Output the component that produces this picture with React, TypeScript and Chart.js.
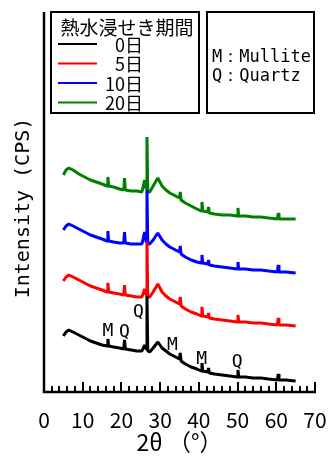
import React, { useEffect, useRef } from "react";
import { Chart, registerables } from "chart.js";

Chart.register(...registerables);

// 2θ positions (deg) shared by all four patterns
const twoTheta = [
  5, 5.7, 6.4, 7.5, 9, 10.5, 12, 13.5, 15, 16.3,
  16.5, 16.7, 18, 19.5, 20.6, 20.8, 21.0, 22.5, 24, 25.3,
  26.0, 26.4, 26.6, 26.8, 27.3, 28.2, 29.4, 30.5, 31.5, 32.5,
  33.5, 35.0, 35.2, 35.4, 36.5, 38, 39.5, 40.6, 40.8, 41.0,
  42.3, 42.5, 42.7, 44, 46, 48, 49.9, 50.1, 50.3, 52,
  54, 56, 58, 60.3, 60.5, 60.7, 62.5, 65,
];

const intensity0 = [
  56, 60, 62, 60, 57, 54, 51, 49, 47, 46,
  53, 46, 45, 44, 43, 52, 43, 42, 41, 41,
  47, 43, 96, 41, 40, 44, 50, 44, 41, 38,
  36, 33, 39, 31, 28, 25, 23, 21, 29, 21,
  20, 24, 19, 18, 17, 16, 15, 22, 15, 15,
  14, 14, 13, 12, 18, 12, 12, 11,
];

const intensity5 = [
  111, 115, 117, 115, 112, 109, 106, 104, 102, 100,
  109, 100, 99, 98, 97, 107, 97, 96, 95, 95,
  103, 97, 150, 95, 95, 100, 108, 100, 96, 93,
  91, 88, 95, 86, 83, 80, 78, 76, 85, 76,
  75, 79, 74, 73, 72, 71, 70, 77, 70, 70,
  69, 69, 68, 67, 74, 67, 67, 66,
];

const intensity10 = [
  162, 166, 168, 166, 163, 160, 157, 155, 153, 151,
  161, 151, 150, 149, 149, 160, 149, 148, 148, 148,
  160, 150, 202, 148, 148, 152, 159, 152, 148, 145,
  143, 140, 146, 138, 135, 132, 130, 129, 137, 129,
  128, 132, 127, 126, 125, 124, 123, 130, 123, 123,
  122, 122, 121, 120, 127, 120, 120, 119,
];

const intensity20 = [
  217, 222, 224, 222, 218, 215, 212, 210, 208, 206,
  215, 206, 205, 203, 202, 214, 202, 201, 201, 200,
  212, 203, 255, 200, 200, 206, 214, 206, 202, 199,
  197, 194, 200, 192, 189, 186, 183, 181, 190, 181,
  180, 185, 179, 178, 177, 177, 176, 184, 176, 176,
  175, 175, 174, 173, 179, 173, 173, 173,
];

const seriesLabels = ["0日", "5日", "10日", "20日"];
const seriesColors = ["#000000", "#ff0000", "#0000ff", "#008000"];
const seriesValues = [intensity0, intensity5, intensity10, intensity20];

const legendTitle = "熱水浸せき期間";
const phaseNotes = ["M：Mullite", "Q：Quartz"];

// peak identification labels on the 0日 pattern
const peakLabels = ["M", "Q", "Q", "M", "M", "Q"];
const peakLabelX = [16.5, 20.8, 24.4, 33.2, 40.7, 49.9];
const peakLabelY = [61, 60, 80, 47, 33, 30];

const xMin = 0;
const xMax = 70;
const xLabelStep = 10;
const xMinorStep = 2;

const decorPlugin = {
  id: "decor",
  afterDatasetsDraw(chart: any) {
    const { ctx, chartArea, scales } = chart;
    const xs = scales.x;
    const ys = scales.y;
    const { left, top, right, bottom } = chartArea;
    ctx.save();
    ctx.strokeStyle = "#000";
    ctx.fillStyle = "#000";

    // axes
    ctx.lineWidth = 2.5;
    ctx.beginPath();
    ctx.moveTo(left, top);
    ctx.lineTo(left, bottom);
    ctx.lineTo(right + 1, bottom);
    ctx.stroke();

    // inward ticks
    ctx.lineWidth = 2;
    for (let v = xMin; v <= xMax; v += xMinorStep) {
      const px = Math.round(xs.getPixelForValue(v));
      const len = v % xLabelStep === 0 ? 10 : 6;
      ctx.beginPath();
      ctx.moveTo(px, bottom);
      ctx.lineTo(px, bottom - len);
      ctx.stroke();
    }

    // peak labels
    ctx.font = "18px 'DejaVu Sans Mono'";
    ctx.textAlign = "center";
    ctx.textBaseline = "middle";
    peakLabels.forEach((t, i) => {
      ctx.fillText(t, xs.getPixelForValue(peakLabelX[i]), ys.getPixelForValue(peakLabelY[i]));
    });

    // legend box 1
    const b1x = left + 7;
    const b1y = top;
    const b1w = 148;
    const b1h = 101;
    ctx.lineWidth = 2;
    ctx.strokeRect(b1x, b1y, b1w, b1h);
    ctx.font = "19px 'Noto Sans CJK JP'";
    ctx.textAlign = "center";
    ctx.fillText(legendTitle, b1x + 76, b1y + 16);
    ctx.font = "18px 'Noto Sans CJK JP'";
    ctx.textAlign = "right";
    chart.data.datasets.forEach((ds: any, i: number) => {
      const ry = b1y + 32 + i * 19.5;
      ctx.strokeStyle = ds.borderColor;
      ctx.lineWidth = 2;
      ctx.beginPath();
      ctx.moveTo(b1x + 7, ry);
      ctx.lineTo(b1x + 46, ry);
      ctx.stroke();
      ctx.fillText(ds.label, b1x + 92, ry + 1);
    });

    // legend box 2
    ctx.strokeStyle = "#000";
    const b2x = left + 163;
    const b2w = 107;
    ctx.strokeRect(b2x, b1y, b2w, b1h);
    ctx.font = "17px 'DejaVu Sans Mono'";
    ctx.textAlign = "left";
    phaseNotes.forEach((t, i) => {
      ctx.fillText(t, b2x + 5, b1y + 46 + i * 19);
    });
    ctx.restore();
  },
};

export default function App() {
  const ref = useRef<HTMLCanvasElement>(null);
  useEffect(() => {
    document.body.style.margin = "0";
    const canvas = ref.current;
    if (!canvas) return;
    const chart = new Chart(canvas, {
      type: "scatter",
      data: {
        datasets: seriesValues.map((vals, i) => ({
          label: seriesLabels[i],
          data: twoTheta.map((x, j) => ({ x, y: vals[j] })),
          showLine: true,
          borderColor: seriesColors[i],
          backgroundColor: seriesColors[i],
          borderWidth: 3,
          borderJoinStyle: "bevel" as const,
          pointRadius: 0,
          tension: 0,
        })),
      },
      options: {
        animation: false,
        responsive: false,
        layout: { padding: { top: 12, right: 13, left: 0, bottom: 0 } },
        plugins: {
          legend: { display: false },
          tooltip: { enabled: false },
        },
        scales: {
          x: {
            type: "linear",
            min: xMin,
            max: xMax,
            ticks: {
              stepSize: xLabelStep,
              color: "#000",
              padding: 15,
              font: { family: "'Noto Sans CJK JP'", size: 21 },
            },
            grid: { display: false, drawTicks: false },
            border: { display: false },
            title: {
              display: true,
              text: "2θ （°）",
              color: "#000",
              font: { family: "'Noto Sans CJK JP'", size: 23, lineHeight: 1 },
              padding: { top: 0, bottom: 7 },
            },
            afterFit: (s: any) => {
              s.height = 69;
              s.paddingLeft = 0;
              s.paddingRight = 0;
            },
          },
          y: {
            type: "linear",
            min: 0,
            max: 380,
            ticks: { display: false },
            grid: { display: false, drawTicks: false },
            border: { display: false },
            title: {
              display: true,
              text: "Intensity (CPS) ",
              color: "#000",
              font: { family: "'DejaVu Sans Mono'", size: 20 },
              padding: { top: 12, bottom: 0 },
            },
            afterFit: (s: any) => {
              s.width = 44;
              s.paddingTop = 0;
              s.paddingBottom = 0;
            },
          },
        },
      },
      plugins: [decorPlugin],
    });
    return () => chart.destroy();
  }, []);
  return (
    <div style={{ width: 328, height: 461 }}>
      <canvas ref={ref} width={328} height={461} style={{ display: "block" }} />
    </div>
  );
}
